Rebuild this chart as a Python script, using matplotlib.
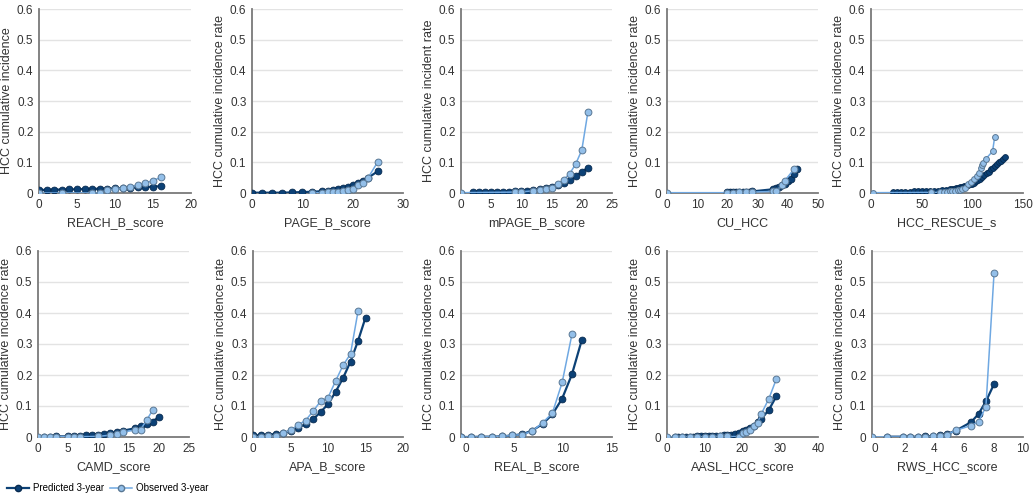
import numpy as np
import matplotlib
matplotlib.use("Agg")
import matplotlib.pyplot as plt
from matplotlib.lines import Line2D

plt.rcParams['font.family'] = ['Liberation Sans', 'DejaVu Sans']

# ---- data ----
reach_x_pred = list(range(0, 17))
reach_pred = [0.010, 0.010, 0.011, 0.011, 0.012, 0.012, 0.013, 0.013, 0.014, 0.014,
              0.015, 0.016, 0.017, 0.018, 0.019, 0.021, 0.022]
reach_x_obs = [0, 3, 7, 8, 9, 10, 11, 12, 13, 14, 15, 16]
reach_obs = [0.0, 0.0, 0.0, 0.001, 0.009, 0.013, 0.016, 0.020, 0.027, 0.033, 0.040, 0.051]

page_x_pred = [0, 2, 4, 6, 8, 10, 12, 14, 15, 16, 17, 18, 19, 20, 21, 22, 23, 25]
page_pred = [0.001, 0.001, 0.001, 0.001, 0.002, 0.003, 0.004, 0.006, 0.008, 0.010,
             0.013, 0.016, 0.020, 0.025, 0.031, 0.040, 0.049, 0.071]
page_x_obs = [12, 14, 15, 16, 17, 18, 19, 20, 21, 22, 23, 25]
page_obs = [0.001, 0.001, 0.002, 0.003, 0.003, 0.005, 0.009, 0.014, 0.025, 0.031, 0.048, 0.102]

mpage_x_pred = list(range(2, 22))
mpage_pred = [0.002, 0.002, 0.002, 0.002, 0.003, 0.003, 0.004, 0.005, 0.006, 0.008,
              0.010, 0.012, 0.015, 0.020, 0.027, 0.034, 0.043, 0.056, 0.068, 0.083]
mpage_x_obs = [0, 9, 10, 12, 13, 14, 15, 16, 17, 18, 19, 20, 21]
mpage_obs = [0.001, 0.003, 0.004, 0.007, 0.010, 0.013, 0.017, 0.029, 0.043, 0.063, 0.095, 0.140, 0.263]

cu_x_pred = [20, 21, 22, 23, 24, 25, 26, 27, 28, 35, 36, 37, 38, 39, 40, 41, 42, 43]
cu_pred = [0.002, 0.002, 0.002, 0.003, 0.003, 0.003, 0.004, 0.004, 0.005,
           0.012, 0.016, 0.020, 0.025, 0.030, 0.038, 0.047, 0.062, 0.078]
cu_x_obs = [0, 20, 22, 24, 26, 28, 35, 36, 38, 39, 42]
cu_obs = [0.001, 0.001, 0.001, 0.002, 0.002, 0.003, 0.005, 0.005, 0.025, 0.040, 0.077]

rescue_x_pred = [22, 26, 30, 34, 38, 42, 46, 50, 54, 58, 62, 66, 70, 74, 78, 80, 82, 84,
                 86, 88, 90, 92, 94, 96, 98, 100, 102, 104, 106, 108, 110, 112, 114,
                 116, 118, 120, 122, 124, 126, 128, 130, 132]
rescue_pred = [0.003, 0.003, 0.004, 0.004, 0.004, 0.005, 0.005, 0.006, 0.006, 0.007,
               0.007, 0.008, 0.009, 0.010, 0.012, 0.013, 0.014, 0.015, 0.017, 0.018,
               0.020, 0.022, 0.024, 0.026, 0.028, 0.030, 0.034, 0.038, 0.042, 0.047,
               0.052, 0.058, 0.064, 0.070, 0.077, 0.083, 0.089, 0.095, 0.100, 0.105,
               0.110, 0.116]
rescue_x_obs = [1.5, 59, 68, 72, 75, 78, 80, 83, 86, 88, 90, 93, 96, 99, 102, 105, 107,
                109, 110, 111, 113, 120, 122]
rescue_obs = [0.001, 0.002, 0.002, 0.003, 0.004, 0.005, 0.006, 0.007, 0.009, 0.010,
              0.012, 0.016, 0.028, 0.035, 0.045, 0.055, 0.065, 0.080, 0.090, 0.099,
              0.110, 0.136, 0.182]

camd_x_pred = [1, 2, 3, 5, 6, 7, 8, 9, 10, 11, 12, 13, 14, 16, 17, 18, 19, 20]
camd_pred = [0.001, 0.001, 0.002, 0.002, 0.003, 0.004, 0.005, 0.006, 0.008, 0.010,
             0.012, 0.015, 0.020, 0.028, 0.035, 0.041, 0.050, 0.065]
camd_x_obs = [0, 1, 2, 3, 5, 6, 7, 10, 12, 13, 14, 16, 17, 18, 19]
camd_obs = [0.001, 0.001, 0.001, 0.001, 0.001, 0.001, 0.001, 0.002, 0.006, 0.010,
            0.016, 0.022, 0.024, 0.055, 0.087]

apa_x_pred = list(range(0, 16))
apa_pred = [0.005, 0.006, 0.007, 0.010, 0.013, 0.020, 0.030, 0.041, 0.057, 0.080,
            0.106, 0.145, 0.190, 0.243, 0.310, 0.385]
apa_x_obs = list(range(0, 15))
apa_obs = [0.0, 0.001, 0.002, 0.003, 0.013, 0.021, 0.039, 0.053, 0.083, 0.115,
           0.127, 0.180, 0.231, 0.268, 0.405]

real_x_pred = [-0.4, 0.6, 1.6, 2.7, 3.7, 4.8, 5.8, 6.8, 7.9, 8.9, 9.9, 10.9, 11.9]
real_pred = [0.0, 0.0, 0.001, 0.001, 0.002, 0.005, 0.009, 0.020, 0.042, 0.073,
             0.124, 0.202, 0.312]
real_x_obs = [-0.4, 0.6, 1.6, 2.7, 3.7, 4.8, 5.8, 6.8, 7.9, 8.9, 9.9, 10.9]
real_obs = [0.0, 0.0, 0.0, 0.001, 0.002, 0.005, 0.008, 0.018, 0.046, 0.077, 0.176, 0.331]

aasl_x_pred = list(range(2, 26)) + [27, 29]
aasl_pred = [0.001, 0.001, 0.001, 0.001, 0.001, 0.001, 0.002, 0.002, 0.002, 0.002,
             0.003, 0.003, 0.004, 0.005, 0.006, 0.008, 0.010, 0.014, 0.018, 0.023,
             0.029, 0.037, 0.047, 0.058, 0.088, 0.132]
aasl_x_obs = [0, 2, 4, 6, 8, 10, 12, 14, 16, 19, 20, 21, 22, 23, 24, 25, 27, 29]
aasl_obs = [0.0, 0.001, 0.001, 0.001, 0.001, 0.001, 0.001, 0.002, 0.002, 0.001,
            0.013, 0.015, 0.024, 0.035, 0.046, 0.075, 0.124, 0.188]

rws_x_pred = [0.85, 1.9, 2.4, 2.9, 3.4, 3.95, 4.4, 4.9, 5.45, 6.5, 7.0, 7.5, 8.05]
rws_pred = [0.001, 0.001, 0.001, 0.001, 0.002, 0.003, 0.005, 0.010, 0.020, 0.048,
            0.074, 0.115, 0.171]
rws_x_obs = [-0.18, 0.85, 1.9, 2.4, 2.9, 3.4, 3.95, 4.4, 4.9, 5.45, 6.5, 7.0, 7.5, 8.05]
rws_obs = [0.0, 0.0, 0.0, 0.0, 0.0, 0.001, 0.002, 0.003, 0.008, 0.021, 0.037, 0.048,
           0.098, 0.530]

panels = [
    ("REACH_B_score", "HCC cumulative incidence", reach_x_pred, reach_pred, reach_x_obs, reach_obs, (0, 20), 5),
    ("PAGE_B_score", "HCC cumulative incidence rate", page_x_pred, page_pred, page_x_obs, page_obs, (0, 30), 10),
    ("mPAGE_B_score", "HCC cumulative incident rate", mpage_x_pred, mpage_pred, mpage_x_obs, mpage_obs, (0, 25), 5),
    ("CU_HCC", "HCC cumulative incidence rate", cu_x_pred, cu_pred, cu_x_obs, cu_obs, (0, 50), 10),
    ("HCC_RESCUE_s", "HCC cumulative incidence rate", rescue_x_pred, rescue_pred, rescue_x_obs, rescue_obs, (0, 150), 50),
    ("CAMD_score", "HCC cumulative incidence rate", camd_x_pred, camd_pred, camd_x_obs, camd_obs, (0, 25), 5),
    ("APA_B_score", "HCC cumulative incidence rate", apa_x_pred, apa_pred, apa_x_obs, apa_obs, (0, 20), 5),
    ("REAL_B_score", "HCC cumulative incidence rate", real_x_pred, real_pred, real_x_obs, real_obs, (-0.45, 15), 5),
    ("AASL_HCC_score", "HCC cumulative incidence rate", aasl_x_pred, aasl_pred, aasl_x_obs, aasl_obs, (0, 40), 10),
    ("RWS_HCC_score", "HCC cumulative incidence rate", rws_x_pred, rws_pred, rws_x_obs, rws_obs, (-0.18, 10), 2),
]

dark = "#0c4176"
dark_edge = "#072a4f"
light = "#6fa8e2"
light_fill = "#93bfe9"
light_edge = "#5a7894"
grid_c = "#e3e3e3"
spine_c = "#7a7a7a"

fig = plt.figure(figsize=(10.33, 4.93), dpi=100)

lefts_top = [39, 252, 461, 667, 871]
rights_top = [191, 403, 612, 818, 1023]
lefts_bot = [38, 253, 461, 667, 872]
rights_bot = [189, 403, 612, 818, 1023]
W, H = 1033.0, 493.0

for i, (xlab, ylab, xp, yp, xo, yo, xlim, step) in enumerate(panels):
    row, col = divmod(i, 5)
    if row == 0:
        l, r = lefts_top[col], rights_top[col]
        top, bot = 9, 193
    else:
        l, r = lefts_bot[col], rights_bot[col]
        top, bot = 251, 437
    ax = fig.add_axes([l / W, 1 - bot / H, (r - l) / W, (bot - top) / H])
    ms = 4.2 if i == 4 else 4.9
    ax.plot(xp, yp, color=dark, lw=1.6, marker="o", ms=ms,
            mfc=dark, mec=dark_edge, mew=0.6, zorder=3)
    ax.plot(xo, yo, color=light, lw=1.1, marker="o", ms=ms,
            mfc=light_fill, mec=light_edge, mew=0.7, zorder=4)
    ax.set_xlim(*xlim)
    ax.set_ylim(0, 0.6)
    ax.set_xticks(np.arange(0, xlim[1] + 0.01, step))
    ax.set_yticks(np.arange(0, 0.61, 0.1))
    ax.set_yticklabels(["0", "0.1", "0.2", "0.3", "0.4", "0.5", "0.6"])
    ax.yaxis.grid(True, color=grid_c, lw=1.0)
    ax.set_axisbelow(True)
    for s in ["top", "right"]:
        ax.spines[s].set_visible(False)
    for s in ["left", "bottom"]:
        ax.spines[s].set_color(spine_c)
        ax.spines[s].set_linewidth(1.3)
    ax.tick_params(length=0, labelsize=8.5, colors="#333333", pad=4)
    ax.set_xlabel(xlab, fontsize=9, color="#333333", labelpad=5)
    ax.set_ylabel(ylab, fontsize=9, color="#333333", labelpad=3)

handles = [
    Line2D([], [], color=dark, lw=1.6, marker="o", ms=4.5, mfc=dark, mec=dark_edge),
    Line2D([], [], color=light, lw=1.1, marker="o", ms=4.5, mfc=light_fill, mec=light_edge),
]
fig.legend(handles, ["Predicted 3-year", "Observed 3-year"], loc="lower left",
           bbox_to_anchor=(-0.002, -0.018), ncol=2, frameon=False, fontsize=7,
           handlelength=2.3, handletextpad=0.4, columnspacing=0.6)

fig.savefig("out.png", dpi=100)
